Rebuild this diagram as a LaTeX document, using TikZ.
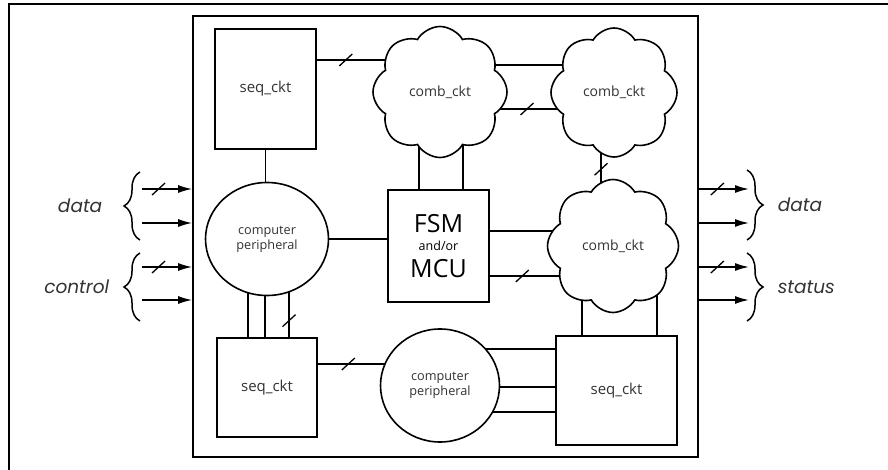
\documentclass[tikz,border=0pt]{standalone}
\usepackage{fontspec}
\setmainfont{Open Sans}
\newfontfamily\iofont{Poppins}
\usepackage{tikz}
\usetikzlibrary{shapes.geometric, shapes.symbols, arrows.meta, decorations.pathreplacing, backgrounds}
\tikzstyle{chipbox} = [rectangle, draw=black, line width=1.6pt]
\tikzstyle{seqbox} = [rectangle, draw=black, fill=white, line width=1.6pt, text=black!80, font=\fontsize{15}{17}\selectfont]
\tikzstyle{fsmbox} = [rectangle, draw=black, fill=white, line width=1.6pt, align=center, inner sep=0pt, font=\fontsize{25}{18}\selectfont]
\tikzstyle{periph} = [ellipse, draw=black, fill=white, line width=1.6pt, align=center, text=black!80, font=\fontsize{12.7}{15}\selectfont]
\tikzstyle{combcloud} = [cloud, cloud puffs=8, cloud puff arc=120, aspect=1, draw=black, fill=white, line width=1.6pt, text=black!80, font=\fontsize{14}{16}\selectfont]
\tikzstyle{conn} = [line width=1.6pt]
\tikzstyle{arrow} = [line width=1.6pt,->,>={Latex[length=14pt,width=8pt]}]
\tikzstyle{brace} = [line width=1.5pt, decorate, decoration={brace, amplitude=16pt}]
\tikzstyle{iolabel} = [inner sep=0pt, text=black!80, font=\iofont\itshape\fontsize{18.5}{20}\selectfont]
\tikzset{bus/.pic={\draw[-, line width=1.3pt] (-6.5,6) -- (6.5,-6);}}

\begin{document}
\begin{tikzpicture}[x=1pt, y=-1pt]
  \useasboundingbox (0,0) rectangle (888,470);

  % Frame
  \draw[line width=2.2pt] (888,4.3) -- (9,4.3) -- (9,470);

  % Nodes
  \node (chip) [chipbox, minimum width=505, minimum height=441] at (445.5,236.5) {};
  \node (seqA) [seqbox, minimum width=101, minimum height=120] at (265.5,89) {seq\_ckt};
  \node (seqB) [seqbox, minimum width=100, minimum height=99] at (267,387.5) {seq\_ckt};
  \node (seqC) [seqbox, minimum width=121, minimum height=109] at (616.5,390.5) {seq\_ckt};
  \node (perA) [periph, minimum width=123, minimum height=113] at (267,239) {computer\\peripheral};
  \node (perB) [periph, minimum width=119, minimum height=113] at (440,385.5) {computer\\peripheral};
  \node (fsm) [fsmbox, minimum width=101, minimum height=112] at (438.5,246)
    {FSM\\{\fontsize{12.5}{14}\selectfont and/or}\\[8pt]MCU};
  \node (combA) [combcloud, minimum width=134, minimum height=131] at (440,92) {comb\_ckt};
  \node (combB) [combcloud, minimum width=126, minimum height=129] at (614,92.5) {comb\_ckt};
  \node (combC) [combcloud, minimum width=131, minimum height=133] at (613,246) {comb\_ckt};

  % Connectors
  \begin{pgfonlayer}{background}
    \draw [conn] (seqA) -- (seqA |- perA);
    \draw [conn] (seqA |- 0,60) -- (combA |- 0,60) pic[pos=0.46]{bus};
    \draw [conn] (combA -| 419,0) -- (fsm -| 419,0);
    \draw [conn] (combA -| 463,0) -- (fsm -| 463,0);
    \draw [conn] (combA |- 0,65) -- (combB |- 0,65);
    \draw [conn] (combA |- 0,109) -- (combB |- 0,109) pic[pos=0.5]{bus};
    \draw [conn] (combB -| 601,0) -- (combC -| 601,0) pic[pos=0.5]{bus};
    \draw [conn] (perA) -- (perA -| fsm);
    \draw [conn] (fsm |- 0,231) -- (combC |- 0,231);
    \draw [conn] (fsm |- 0,276) -- (combC |- 0,276) pic[pos=0.48]{bus};
    \draw [conn] (perA -| 248,0) -- (seqB -| 248,0);
    \draw [conn] (perA -| 265,0) -- (seqB -| 265,0);
    \draw [conn] (perA -| 289,0) -- (seqB -| 289,0) pic[pos=0.55]{bus};
    \draw [conn] (seqB |- 0,364) -- (perB |- 0,364) pic[pos=0.47]{bus};
    \foreach \y in {349,387,412}
      \draw [conn] (perB |- 0,\y) -- (seqC |- 0,\y);
    \draw [conn] (combC -| 582,0) -- (seqC -| 582,0);
    \draw [conn] (combC -| 657,0) -- (seqC -| 657,0);
  \end{pgfonlayer}

  % Inputs and outputs
  \foreach \y in {189,267} {
    \coordinate (bi) at (142,\y);
    \coordinate (bo) at (749,\y);
    \draw [arrow] (bi) -- (bi -| chip.west) pic[pos=0.33]{bus};
    \draw [arrow] (bo -| chip.east) -- (bo) pic[pos=0.37]{bus};
  }
  \foreach \y in {223,300} {
    \coordinate (si) at (142,\y);
    \coordinate (so) at (749,\y);
    \draw [arrow] (si) -- (si -| chip.west);
    \draw [arrow] (so -| chip.east) -- (so);
  }

  % Braces
  \draw [brace] (140,240) -- (140,172) node[midway, left=37pt, iolabel] (datain) {data};
  \draw [brace] (140,321) -- (140,253) node[midway, left=30pt, iolabel] (ctrlin) {control};
  \draw [brace] (747,170) -- (747,240) node[midway, right=30pt, iolabel] (dataout) {data};
  \draw [brace] (747,253) -- (747,321) node[midway, right=30pt, iolabel] (statout) {status};

\end{tikzpicture}
\end{document}
